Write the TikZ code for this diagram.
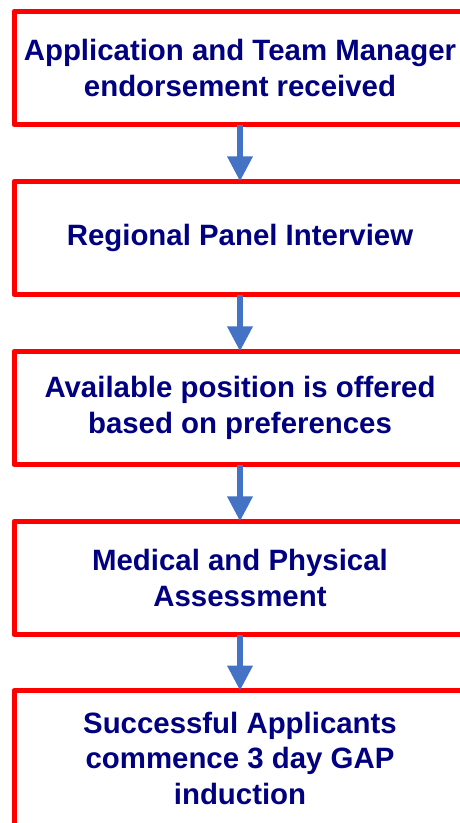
\documentclass[tikz,border=0pt]{standalone}
\usepackage{fontspec}
\setmainfont{Liberation Sans}
\usetikzlibrary{arrows.meta}
\definecolor{stagered}{RGB}{255,0,0}
\definecolor{stagenavy}{RGB}{0,0,128}
\definecolor{flowblue}{RGB}{68,114,196}

\begin{document}
\begin{tikzpicture}[x=1pt,y=-1pt,
  stage/.style={draw=stagered,line width=5pt,line join=round,outer sep=0pt,
    minimum width=452pt,minimum height=113.5pt,align=center,text=stagenavy,
    font=\fontsize{29.4pt}{35.5pt}\selectfont\bfseries},
  flow/.style={draw=flowblue,line width=5.5pt,-{Triangle[length=25pt,width=24.5pt]}}]
  \useasboundingbox (0,0) rectangle (460,823);
  \clip (0,0) rectangle (460,823);
  % stages
  \node[stage] (apply) at (240,68) {Application and Team Manager\\endorsement received};
  \node[stage] (panel) at (240,238) {Regional Panel Interview};
  \node[stage] (offer) at (240,408) {Available position is offered\\based on preferences};
  \node[stage] (medical) at (240,578) {Medical and Physical\\Assessment};
  \node[stage,minimum height=135pt] (induct) at (240,758) {Successful Applicants\\commence 3 day GAP\\induction};
  % arrows between stages
  \draw[flow] (apply) -- (panel);
  \draw[flow] (panel) -- (offer);
  \draw[flow] (offer) -- (medical);
  \draw[flow] (medical) -- (induct);
\end{tikzpicture}
\end{document}
